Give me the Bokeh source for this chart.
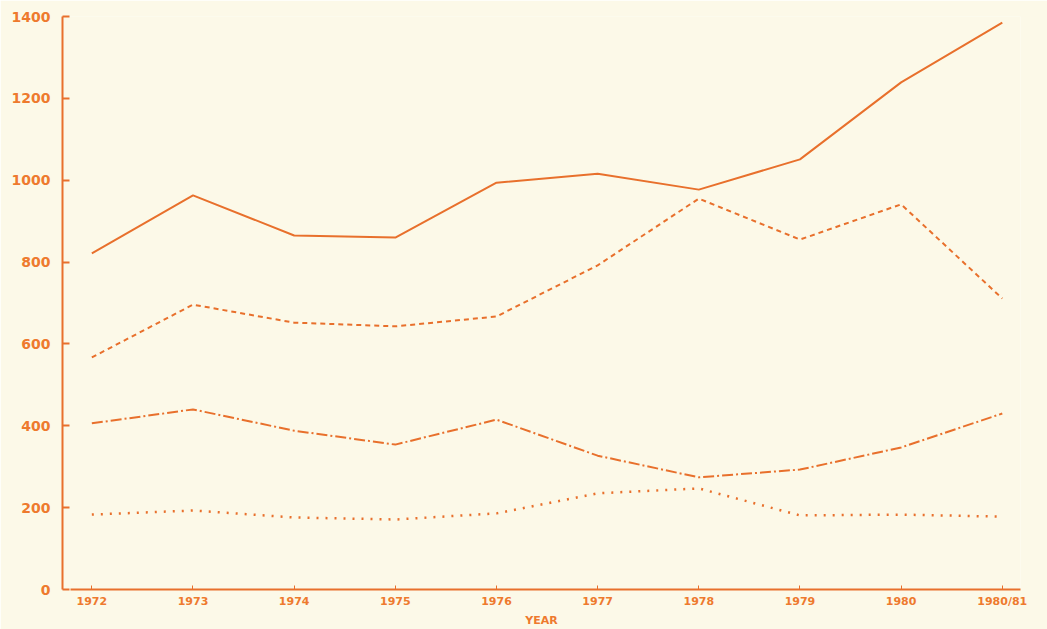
from bokeh.plotting import figure
from bokeh.models import FixedTicker, Range1d
from bokeh.embed import file_html
from bokeh.resources import INLINE

years = [1972, 1973, 1974, 1975, 1976, 1977, 1978, 1979, 1980, 1981]
year_labels = ["1972", "1973", "1974", "1975", "1976", "1977", "1978", "1979", "1980", "1980/81"]
series_solid = [821, 963, 865, 860, 994, 1016, 977, 1051, 1239, 1385]
series_dashed = [567, 696, 652, 643, 667, 792, 955, 855, 941, 711]
series_dashdot = [406, 440, 388, 354, 415, 327, 274, 293, 347, 430]
series_dotted = [183, 193, 176, 171, 186, 235, 247, 181, 183, 178]
y_ticks = [0, 200, 400, 600, 800, 1000, 1200, 1400]

ORANGE = "#E8702C"
TEXT = "#EE7A2E"
BG = "#FCF9E8"

p = figure(width=1047, height=629, output_backend="svg", toolbar_location=None,
           x_range=Range1d(1971.71, 1981.18), y_range=Range1d(0, 1400),
           min_border_left=62, min_border_right=27, min_border_top=16, min_border_bottom=40,
           background_fill_color=BG, border_fill_color=BG)
p.outline_line_color = None
p.xgrid.visible = False
p.ygrid.visible = False

styles = [(series_solid, "solid", 2), (series_dashed, "5 4", 2),
          (series_dashdot, "11 3 2 3", 2), (series_dotted, "2 7", 2.5)]
for vals, dash, w in styles:
    p.line(years, vals, line_color=ORANGE, line_width=w, line_dash=dash)

# x axis
p.xaxis.ticker = FixedTicker(ticks=years)
p.xaxis.major_label_overrides = {y: l for y, l in zip(years, year_labels)}
p.xaxis.bounds = (1971.79, 1981.18)
p.xaxis.axis_line_color = ORANGE
p.xaxis.axis_line_width = 2
p.xaxis.major_tick_line_color = ORANGE
p.xaxis.major_tick_in = 4
p.xaxis.major_tick_out = 0
p.xaxis.minor_tick_line_color = None
p.xaxis.major_label_text_color = TEXT
p.xaxis.major_label_text_font = "DejaVu Sans"
p.xaxis.major_label_text_font_style = "bold"
p.xaxis.major_label_text_font_size = "11px"
p.xaxis.major_label_standoff = 5
p.xaxis.axis_label = "YEAR"
p.xaxis.axis_label_text_color = TEXT
p.xaxis.axis_label_text_font = "DejaVu Sans"
p.xaxis.axis_label_text_font_style = "bold"
p.xaxis.axis_label_text_font_size = "11px"
p.xaxis.axis_label_standoff = 3

# y axis
p.yaxis.ticker = FixedTicker(ticks=y_ticks)
p.yaxis.bounds = (0, 1400)
p.yaxis.axis_line_color = ORANGE
p.yaxis.axis_line_width = 2
p.yaxis.major_tick_line_color = ORANGE
p.yaxis.major_tick_line_width = 2
p.yaxis.major_tick_in = 7
p.yaxis.major_tick_out = 0
p.yaxis.minor_tick_line_color = None
p.yaxis.major_label_text_color = TEXT
p.yaxis.major_label_text_font = "DejaVu Sans"
p.yaxis.major_label_text_font_style = "bold"
p.yaxis.major_label_text_font_size = "14px"
p.yaxis.major_label_standoff = 12

open("out.html", "w").write(file_html(p, INLINE))
